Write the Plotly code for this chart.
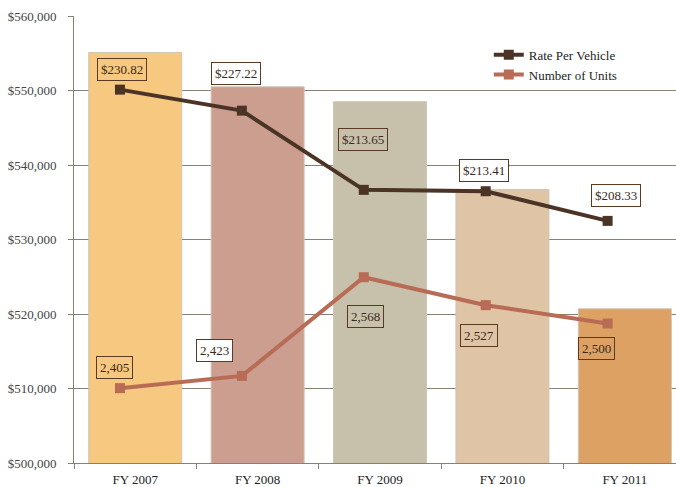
import plotly.graph_objects as go

categories = ["FY 2007", "FY 2008", "FY 2009", "FY 2010", "FY 2011"]
bar_values = [555100, 550500, 548500, 536700, 520700]
bar_colors = ["#F6C880", "#CB9E8F", "#C7C0AA", "#E0C4A6", "#DCA163"]
rate_values = [230.82, 227.22, 213.65, 213.41, 208.33]
units_values = [2405, 2423, 2568, 2527, 2500]
rate_labels = ["$230.82", "$227.22", "$213.65", "$213.41", "$208.33"]
units_labels = ["2,405", "2,423", "2,568", "2,527", "2,500"]

# label offsets (pixels) relative to their points
rate_shift = [(2, 20), (-6, 37), (-1, 50), (-2, 21), (8, 25)]
rate_bg = ["rgba(0,0,0,0)", "white", "rgba(0,0,0,0)", "white", "white"]
units_shift = [(-5, 21), (-27, 25), (2, -39), (-7, -30), (-11, -25)]
units_bg = ["rgba(0,0,0,0)", "white", "rgba(0,0,0,0)", "rgba(0,0,0,0)", "rgba(0,0,0,0)"]

FONT = "Liberation Serif"
GRID = "#8a7f74"
RATE_C = "#4B3426"
UNITS_C = "#B86B55"

fig = go.Figure()
fig.add_trace(go.Bar(
    x=categories, y=bar_values, marker=dict(color=bar_colors, line=dict(color="#cfc6b8", width=1)),
    width=0.76, showlegend=False, hoverinfo="skip"))
fig.add_trace(go.Scatter(
    x=categories, y=rate_values, xaxis="x2", yaxis="y2", mode="lines+markers",
    name="Rate Per Vehicle", line=dict(color=RATE_C, width=4),
    marker=dict(symbol="square", size=10, color=RATE_C)))
fig.add_trace(go.Scatter(
    x=categories, y=units_values, xaxis="x2", yaxis="y3", mode="lines+markers",
    name="Number of Units", line=dict(color=UNITS_C, width=4),
    marker=dict(symbol="square", size=10, color=UNITS_C)))

annotations = []
for c, v, t, (dx, dy), bg in zip(categories, rate_values, rate_labels, rate_shift, rate_bg):
    annotations.append(dict(x=c, y=v, xref="x2", yref="y2", text=t, showarrow=False,
                            xshift=dx, yshift=dy, bordercolor="#5a3a20", borderwidth=1,
                            borderpad=3, bgcolor=bg, font=dict(family=FONT, size=13, color="#3b2a1c")))
for c, v, t, (dx, dy), bg in zip(categories, units_values, units_labels, units_shift, units_bg):
    annotations.append(dict(x=c, y=v, xref="x2", yref="y3", text=t, showarrow=False,
                            xshift=dx, yshift=dy, bordercolor="#5a3a20", borderwidth=1,
                            borderpad=3, bgcolor=bg, font=dict(family=FONT, size=13, color="#3b2a1c")))

fig.update_layout(
    width=676, height=487,
    margin=dict(l=74, r=0, t=16, b=24),
    paper_bgcolor="white", plot_bgcolor="white",
    font=dict(family=FONT, size=13, color="#3d3d3d"),
    xaxis=dict(type="category", categoryarray=categories, range=[-0.5, 4.418],
               showline=True, linecolor=GRID, linewidth=1, ticks="outside", tickson="boundaries",
               ticklen=5, tickcolor=GRID, showgrid=False, ticklabelstandoff=4,
               tickfont=dict(family=FONT, size=13, color="#222")),
    xaxis2=dict(type="category", categoryarray=categories, overlaying="x", range=[-0.377, 4.561],
                visible=False),
    yaxis=dict(range=[500000, 560000], dtick=10000, tickformat="$,.0f", showline=True,
               linecolor=GRID, linewidth=1, ticks="outside", ticklen=5, tickcolor=GRID,
               showgrid=True, gridcolor=GRID, gridwidth=1, zeroline=False, ticklabelstandoff=9,
               tickfont=dict(family=FONT, size=13, color="#444")),
    yaxis2=dict(overlaying="y", range=[166.84, 243.44], visible=False, anchor="x2"),
    yaxis3=dict(overlaying="y", range=[2295, 2952], visible=False, anchor="x2"),
    legend=dict(x=0.689, y=0.947, xanchor="left", yanchor="top", bgcolor="rgba(0,0,0,0)",
                font=dict(family=FONT, size=13, color="#222"), itemwidth=30, tracegroupgap=0),
    annotations=annotations,
)

fig.write_html("out.html")
